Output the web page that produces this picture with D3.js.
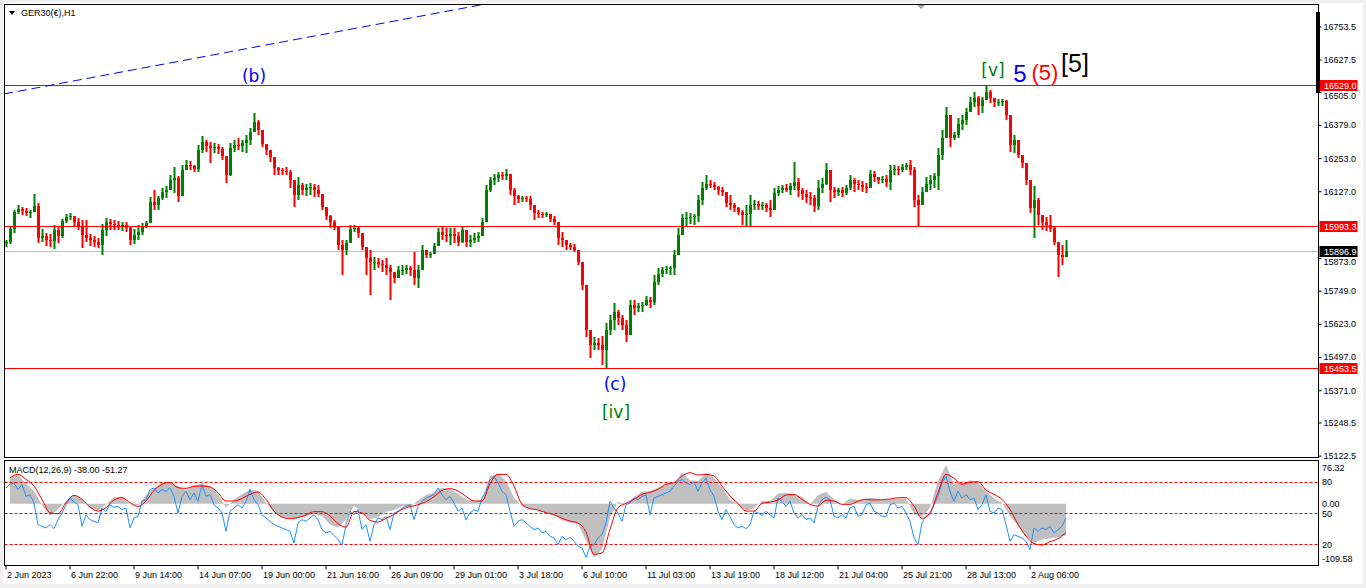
<!DOCTYPE html>
<html>
<head>
<meta charset="utf-8">
<script src="https://d3js.org/d3.v7.min.js"></script>
<style>
  body { margin: 0; background: #f0f0f0; }
  svg text { font-family: "Liberation Sans", Arial, sans-serif; }
</style>
</head>
<body>
<svg id="chart" width="1366" height="588"></svg>
<script>
// GER30 H1 candles (one drawn candle = 4 hourly bars)
const barsPerCandle = 4;
const firstOpen = 15930;
const candleHigh = [
  15940, 15989, 16054, 16073, 16065, 16062, 16054, 16115, 16081, 15982,
  15967, 15963, 15997, 15989, 16020, 16039, 16043, 16031, 16024, 16016,
  16016, 15963, 15955, 15948, 16001, 16024, 16020, 16016, 16012, 16008,
  16008, 15993, 15982, 15997, 16005, 16012, 16103, 16130, 16107, 16138,
  16145, 16187, 16217, 16183, 16225, 16244, 16240, 16225, 16301, 16335,
  16320, 16312, 16309, 16305, 16293, 16244, 16309, 16320, 16328, 16320,
  16339, 16366, 16423, 16396, 16350, 16301, 16282, 16252, 16217, 16214,
  16217, 16206, 16168, 16179, 16157, 16153, 16157, 16153, 16149, 16111,
  16062, 16035, 16016, 15970, 15940, 15940, 15997, 15997, 15989, 15967,
  15910, 15902, 15875, 15872, 15864, 15872, 15845, 15818, 15841, 15845,
  15845, 15841, 15894, 15845, 15921, 15902, 15894, 15929, 15986, 15993,
  15986, 15986, 15986, 15970, 15993, 15978, 15959, 15967, 15970, 16024,
  16149, 16179, 16191, 16198, 16198, 16210, 16187, 16138, 16111, 16107,
  16107, 16107, 16073, 16054, 16046, 16046, 16039, 16031, 15997, 15970,
  15940, 15929, 15925, 15902, 15856, 15758, 15598, 15571, 15568, 15575,
  15625, 15655, 15701, 15674, 15655, 15636, 15712, 15712, 15701, 15704,
  15727, 15723, 15807, 15834, 15837, 15841, 15841, 15902, 15986, 16039,
  16046, 16043, 16039, 16111, 16160, 16187, 16168, 16160, 16145, 16141,
  16122, 16111, 16081, 16065, 16054, 16073, 16111, 16092, 16088, 16084,
  16081, 16092, 16138, 16145, 16149, 16153, 16157, 16236, 16176, 16138,
  16130, 16122, 16111, 16168, 16176, 16233, 16206, 16141, 16138, 16141,
  16149, 16187, 16176, 16168, 16164, 16157, 16206, 16202, 16179, 16183,
  16187, 16225, 16225, 16221, 16229, 16233, 16244, 16217, 16111, 16141,
  16179, 16187, 16195, 16290, 16358, 16445, 16377, 16350, 16404, 16415,
  16442, 16483, 16502, 16487, 16483, 16525, 16510, 16480, 16476, 16476,
  16472, 16377, 16339, 16320, 16255, 16225, 16168, 16145, 16100, 16035,
  16027, 16035, 15989, 15929, 15921, 15940
];
const candleLow = [
  15913, 15925, 15967, 16039, 16035, 16031, 16024, 16046, 15929, 15932,
  15917, 15913, 15906, 15929, 15948, 16005, 16016, 15993, 15978, 15910,
  15932, 15917, 15913, 15910, 15883, 15955, 15978, 15978, 15978, 15974,
  15970, 15921, 15925, 15940, 15959, 15986, 16008, 16054, 16054, 16092,
  16100, 16130, 16119, 16084, 16130, 16206, 16206, 16198, 16198, 16271,
  16274, 16233, 16271, 16267, 16244, 16157, 16183, 16274, 16282, 16274,
  16271, 16301, 16358, 16339, 16293, 16263, 16236, 16187, 16187, 16187,
  16187, 16138, 16065, 16092, 16111, 16107, 16111, 16103, 16103, 16054,
  16016, 15986, 15978, 15902, 15807, 15883, 15940, 15970, 15948, 15902,
  15807, 15731, 15826, 15834, 15818, 15807, 15712, 15777, 15799, 15807,
  15811, 15803, 15769, 15758, 15856, 15872, 15872, 15894, 15921, 15940,
  15932, 15921, 15929, 15917, 15929, 15913, 15913, 15929, 15932, 15959,
  16016, 16122, 16149, 16160, 16168, 16168, 16111, 16073, 16081, 16084,
  16084, 16054, 16016, 16024, 16024, 16027, 16008, 15997, 15921, 15913,
  15902, 15902, 15894, 15845, 15750, 15571, 15492, 15522, 15522, 15465,
  15454, 15579, 15598, 15617, 15598, 15552, 15579, 15655, 15666, 15666,
  15689, 15682, 15693, 15769, 15799, 15811, 15807, 15807, 15883, 15959,
  15993, 16001, 15997, 16008, 16073, 16130, 16138, 16130, 16111, 16107,
  16065, 16054, 16046, 16035, 15997, 15993, 15993, 16054, 16054, 16054,
  16046, 16027, 16054, 16107, 16119, 16122, 16111, 16130, 16103, 16092,
  16081, 16073, 16046, 16054, 16119, 16149, 16084, 16100, 16107, 16103,
  16111, 16130, 16122, 16130, 16122, 16119, 16149, 16160, 16153, 16157,
  16141, 16130, 16187, 16187, 16198, 16206, 16187, 16065, 15993, 16081,
  16122, 16130, 16138, 16130, 16244, 16358, 16293, 16320, 16328, 16358,
  16377, 16426, 16445, 16415, 16423, 16472, 16461, 16445, 16449, 16449,
  16396, 16274, 16271, 16252, 16214, 16149, 16043, 15948, 15997, 15978,
  15974, 15970, 15921, 15799, 15845, 15890
];
const candleClose = [
  15932, 15982, 16046, 16058, 16050, 16043, 16046, 16069, 15948, 15955,
  15940, 15936, 15978, 15955, 16012, 16027, 16031, 16008, 15993, 15959,
  15948, 15940, 15932, 15921, 15978, 16008, 16001, 15997, 15993, 15997,
  15986, 15940, 15959, 15970, 15993, 16005, 16084, 16073, 16100, 16122,
  16130, 16168, 16176, 16107, 16206, 16225, 16221, 16210, 16282, 16312,
  16297, 16290, 16293, 16286, 16259, 16187, 16290, 16301, 16297, 16309,
  16320, 16350, 16388, 16358, 16305, 16282, 16255, 16214, 16206, 16202,
  16198, 16168, 16111, 16149, 16130, 16138, 16141, 16130, 16115, 16065,
  16031, 16008, 15989, 15921, 15902, 15929, 15982, 15986, 15967, 15913,
  15872, 15856, 15856, 15849, 15845, 15834, 15818, 15796, 15826, 15826,
  15834, 15826, 15796, 15826, 15902, 15883, 15887, 15917, 15970, 15959,
  15955, 15963, 15955, 15932, 15978, 15932, 15940, 15948, 15955, 16008,
  16130, 16168, 16176, 16187, 16183, 16191, 16130, 16107, 16096, 16100,
  16096, 16073, 16043, 16039, 16035, 16039, 16020, 16008, 15948, 15940,
  15921, 15913, 15902, 15856, 15769, 15598, 15541, 15549, 15541, 15522,
  15598, 15636, 15666, 15644, 15617, 15579, 15693, 15682, 15689, 15693,
  15712, 15704, 15780, 15811, 15826, 15830, 15834, 15883, 15959, 16024,
  16024, 16027, 16031, 16092, 16138, 16153, 16149, 16141, 16130, 16122,
  16081, 16073, 16062, 16046, 16035, 16039, 16073, 16077, 16069, 16073,
  16062, 16054, 16119, 16130, 16138, 16130, 16145, 16160, 16130, 16115,
  16103, 16100, 16069, 16138, 16153, 16206, 16130, 16122, 16130, 16119,
  16138, 16168, 16153, 16149, 16141, 16138, 16191, 16179, 16168, 16172,
  16160, 16206, 16210, 16206, 16217, 16225, 16206, 16092, 16073, 16122,
  16153, 16168, 16183, 16263, 16328, 16415, 16328, 16339, 16381, 16396,
  16426, 16464, 16480, 16449, 16472, 16502, 16480, 16464, 16464, 16468,
  16415, 16301, 16320, 16263, 16233, 16168, 16062, 16092, 16035, 16008,
  15997, 15986, 15932, 15883, 15875, 15897
];

// indicator window, sampled every 8 bars (histogram + signal) and every 4 bars (blue line)
const macdStep = 8;
const macdMain = [
  47.7, 51.2, 35.7, 22.6, -2.4, -22, -10.1, 4.8, 15.5, 7.7,
  -8.3, -11.9, -1.2, 11.9, 11.9, -1.2, -2.4, 15.5, 27.4, 36.9,
  38.1, 31.6, 23.8, 33.4, 35.7, 31.6, 16.7, -7.1, 7.7, 16.7,
  25.6, 22.6, 1.8, -16.1, -25, -26.2, -25, -22, -17.9, -22,
  -36.9, -42.9, -28, -4.2, -16.1, -28, -23.8, -14.3, -11.9, -4.2,
  -6, 6, 15.5, 19.7, 28.6, 25.6, 17.9, 7.7, 4.8, 6,
  49.5, 53.6, 40.5, 10.7, -4.2, -8.3, -11.9, -16.1, -19.1, -29.8,
  -34, -35.7, -66.7, -96.5, -81.6, -25, 3.6, 0, 11.9, 21.4,
  22.6, 28.6, 35.7, 35.7, 55.4, 41.7, 40.5, 55.4, 46.5, 28.6,
  7.7, -1.2, -13.1, -8.3, 4.8, 4.8, 17.9, 19.7, 15.5, 11.9,
  -1.2, 15.5, 21.4, 7.7, -1.2, 9.5, 6, 9.5, 10.7, 6,
  7.7, 9.5, 9.5, -19.1, -23.8, -7.1, 40.5, 69.1, 34.6, 35.7,
  41.7, 37.5, 22.6, 9.5, 1.8, -22, -39.9, -57.8, -69.7, -63.8,
  -62, -59.6, -57
];
const macdSignal = [
  46.5, 52.4, 43.5, 31.6, 7.7, -16.1, -17.9, 1.8, 14.9, 7.7,
  -6, -13.1, -7.1, 6.6, 10.7, 1.8, -4.8, 4.8, 23.8, 34.6,
  38.1, 28.6, 27.4, 31, 31.6, 29.8, 19.7, 4.8, 4.8, 9.5,
  16.7, 20.9, 7.7, -13.1, -23.8, -26.8, -25, -20.3, -14.3, -14.3,
  -22, -35.7, -42, -14, -16.1, -29.8, -32.8, -26.2, -19.1, -10.1,
  -5.4, -1.8, 3.6, 12.5, 23.8, 26.8, 22.6, 13.1, 4.8, 4.8,
  35.7, 52.4, 52.4, 31.6, -1.2, -8.9, -11.3, -16.1, -19.7, -26.2,
  -31, -34.6, -50.6, -90.6, -88, -45.9, -7.1, 0.6, 7.7, 16.7,
  20.3, 25.6, 34.6, 37.5, 49.5, 55.4, 51.2, 52.4, 49.5, 31.6,
  13.7, 0, -13.1, -13.1, 0.6, 3, 6.6, 15.5, 16.7, 7.7,
  -1.2, -4.2, 6, 4.8, -1.2, -1.2, 4.8, 7.7, 6.6, 7.1,
  8.3, 10.7, 10.7, -4.2, -26.2, -16.1, 19.7, 52.4, 45.3, 34.6,
  38.7, 39.3, 24.4, 16.7, 7.7, -10.1, -36.9, -57.8, -71.5, -73.9,
  -67.9, -62.6, -51.3
];
const blueLine = [
  74.1, 77.9, 78.9, 72.5, 77.3, 66.0, 67.6, 59.6, 38.8, 37.2,
  35.6, 38.8, 35.0, 43.6, 50.0, 58.0, 64.4, 60.6, 58.0, 37.2,
  48.4, 43.6, 42.0, 40.4, 54.8, 51.6, 58.0, 55.5, 56.4, 53.2,
  54.8, 35.6, 45.2, 46.8, 61.2, 62.8, 72.5, 74.1, 69.2, 72.5,
  70.9, 74.1, 66.0, 50.0, 66.0, 70.9, 62.8, 69.2, 61.2, 77.3,
  66.0, 67.6, 58.0, 54.8, 50.0, 32.4, 51.6, 54.8, 58.0, 54.8,
  61.2, 72.5, 62.8, 58.0, 48.4, 45.2, 42.0, 38.8, 37.2, 35.6,
  34.0, 32.4, 21.2, 40.4, 43.6, 42.0, 45.2, 48.4, 43.6, 34.0,
  30.8, 32.4, 28.5, 24.4, 18.9, 38.8, 51.6, 48.4, 53.2, 34.0,
  38.8, 22.8, 38.8, 45.2, 43.6, 46.8, 34.0, 50.0, 51.6, 54.8,
  56.4, 58.0, 43.6, 56.4, 61.2, 64.4, 66.0, 67.6, 74.1, 67.6,
  62.8, 66.0, 59.6, 51.6, 54.8, 43.6, 50.0, 53.2, 51.6, 64.4,
  70.9, 82.1, 85.3, 78.9, 70.9, 67.6, 51.6, 37.2, 42.0, 43.6,
  40.4, 37.2, 34.0, 35.6, 30.8, 32.4, 27.6, 26.0, 19.6, 27.6,
  24.4, 26.6, 22.8, 18.0, 16.4, 7.4, 18.0, 19.6, 26.0, 29.2,
  40.4, 61.2, 54.8, 50.0, 42.0, 58.0, 59.6, 64.4, 62.8, 66.0,
  67.6, 48.4, 64.4, 66.0, 67.6, 69.2, 70.9, 75.7, 80.5, 82.1,
  78.9, 77.3, 79.8, 70.9, 78.9, 83.7, 72.5, 66.0, 51.6, 43.6,
  53.2, 46.8, 38.8, 35.6, 37.2, 35.0, 38.8, 51.6, 50.0, 47.8,
  51.6, 48.4, 45.2, 64.4, 61.2, 56.4, 61.2, 50.0, 45.2, 48.4,
  43.6, 45.2, 40.4, 56.4, 62.8, 65.1, 62.8, 46.8, 45.2, 48.4,
  45.2, 54.8, 56.4, 46.8, 48.4, 58.0, 59.6, 51.6, 50.0, 46.8,
  46.8, 58.0, 59.6, 54.8, 56.4, 50.0, 42.0, 26.0, 19.6, 40.4,
  46.8, 48.4, 58.0, 66.0, 78.9, 85.3, 70.9, 61.2, 70.9, 64.4,
  67.6, 62.8, 64.4, 53.2, 58.0, 67.6, 51.6, 50.0, 54.8, 53.2,
  38.8, 22.8, 29.2, 27.6, 26.0, 22.8, 14.8, 35.6, 32.4, 35.6,
  34.0, 37.2, 30.8, 34.0, 37.2, 45.2
];
const stochLevels = [80, 50, 20];
const macdRange = [-109.58, 76.32];
const macdTitle = "MACD(12,26,9) -38.00 -51.27";

// horizontal levels and trend line
const redLevels = [16529.0, 15993.3, 15453.5];
const bidPrice = 15896.9;
const trendPoints = [[-1, 16495], [395, 16776]];

// axes
const priceTicks = [16753.5, 16627.5, 16505.0, 16379.0, 16253.0, 16127.0, 15873.0,
  15749.0, 15623.0, 15497.0, 15371.0, 15248.5, 15122.5];
const barsPerTimeLabel = 64;
const timeLabels = ["2 Jun 2023", "6 Jun 22:00", "9 Jun 14:00", "14 Jun 07:00",
  "19 Jun 00:00", "21 Jun 16:00", "26 Jun 09:00", "29 Jun 01:00", "3 Jul 18:00",
  "6 Jul 10:00", "11 Jul 03:00", "13 Jul 19:00", "18 Jul 12:00", "21 Jul 04:00",
  "25 Jul 21:00", "28 Jul 13:00", "2 Aug 06:00"];

// Elliott wave labels, anchored at (bar, price)
const waveLabels = [
  { text: "(b)", bar: 249, price: 16542, kind: "minorBlue" },
  { text: "(c)", bar: 610, price: 15370, kind: "minorBlue" },
  { text: "[iv]", bar: 611, price: 15265, kind: "minorGreen" },
  { text: "[v]", bar: 988, price: 16562, kind: "minorGreen" },
  { text: "5", bar: 1015, price: 16540, kind: "bigBlue" },
  { text: "(5)", bar: 1040, price: 16547, kind: "bigRed" },
  { text: "[5]", bar: 1070, price: 16580, kind: "bigBlack" },
];

const labelStyles = {
  minorBlue: { fill: "#0000ff", size: 17, font: "DejaVu Sans" },
  minorGreen: { fill: "#008000", size: 17, font: "DejaVu Sans" },
  bigBlue: { fill: "#0000ff", size: 24, font: "Liberation Sans" },
  bigRed: { fill: "#ff0000", size: 22, font: "Liberation Sans" },
  bigBlack: { fill: "#000000", size: 25, font: "Liberation Sans" },
};

const W = 1366, H = 588;
const left = 4.5, right = 1318.5;
const mainTop = 4.5, mainBottom = 457.5;
const subTop = 460.5, subBottom = 565.5;
const upColor = "#008000", downColor = "#ff0000";

const svg = d3.select("#chart");

const x = d3.scaleLinear().domain([0, 1313]).range([5, 1318]);
const y = d3.scaleLinear().domain([15115.4, 16836.8]).range([457, 4]);
const yMacd = d3.scaleLinear().domain(macdRange).range([565, 461]);
const yStoch = d3.scaleLinear().domain([0, 100]).range([565, 461]);

function drawFrame() {
  svg.append("rect").attr("width", W).attr("height", H).attr("fill", "#f0f0f0");
  svg.append("rect").attr("x", 3).attr("y", 3).attr("width", W - 6).attr("height", H - 7)
    .attr("fill", "#ffffff");

  let defs = svg.append("defs");
  defs.append("clipPath").attr("id", "clip-main").append("rect")
    .attr("x", left).attr("y", mainTop).attr("width", right - left).attr("height", mainBottom - mainTop);
  defs.append("clipPath").attr("id", "clip-sub").append("rect")
    .attr("x", left).attr("y", subTop).attr("width", right - left).attr("height", subBottom - subTop);
}

function drawCandles() {
  let candles = candleClose.map((c, i) => {
    let open = i === 0 ? firstOpen : candleClose[i - 1];
    return {
      bar: i * barsPerCandle + 1,
      open: open,
      close: c,
      high: Math.max(candleHigh[i], open, c),
      low: Math.min(candleLow[i], open, c),
    };
  });

  let g = svg.append("g").attr("clip-path", "url(#clip-main)");

  // bid line sits behind the bars
  g.append("line")
    .attr("x1", left).attr("x2", right)
    .attr("y1", Math.round(y(bidPrice)) + 0.5).attr("y2", Math.round(y(bidPrice)) + 0.5)
    .attr("stroke", "#c0c0c0");

  // at this zoom the terminal draws each bar as a solid coloured stroke
  g.selectAll("line.wick")
    .data(candles)
    .enter()
    .append("line")
    .attr("class", "wick")
    .attr("x1", (d) => x(d.bar) + 0.5)
    .attr("x2", (d) => x(d.bar) + 0.5)
    .attr("y1", (d) => y(d.high))
    .attr("y2", (d) => y(d.low))
    .attr("stroke", (d) => (d.close >= d.open ? upColor : downColor))
    .attr("stroke-width", 2);

  g.selectAll("rect.body")
    .data(candles)
    .enter()
    .append("rect")
    .attr("class", "body")
    .attr("x", (d) => x(d.bar) - 1)
    .attr("width", 3)
    .attr("y", (d) => y(Math.max(d.open, d.close)))
    .attr("height", (d) => Math.max(1, Math.abs(y(d.open) - y(d.close))))
    .attr("fill", (d) => (d.close >= d.open ? upColor : downColor));

  g.selectAll("line.level")
    .data(redLevels)
    .enter()
    .append("line")
    .attr("class", "level")
    .attr("x1", left).attr("x2", right)
    .attr("y1", (d) => Math.round(y(d)) + 0.5)
    .attr("y2", (d) => Math.round(y(d)) + 0.5)
    .attr("stroke", "#ff0000");

  // trend line runs on past its second point (ray)
  let [p0, p1] = trendPoints;
  let slope = (p1[1] - p0[1]) / (p1[0] - p0[0]);
  let farBar = 700;
  g.append("line")
    .attr("x1", x(p0[0])).attr("y1", y(p0[1]))
    .attr("x2", x(farBar)).attr("y2", y(p0[1] + slope * (farBar - p0[0])))
    .attr("stroke", "#0000ff")
    .attr("stroke-width", 1)
    .attr("stroke-dasharray", "9,5");

  // chart shift marker
  svg.append("path")
    .attr("d", `M ${x(911)} 4 L ${x(921)} 4 L ${x(916)} 9 Z`)
    .attr("fill", "#a0a0a0");
}

function drawWaveLabels() {
  svg.selectAll("text.wave")
    .data(waveLabels)
    .enter()
    .append("text")
    .attr("class", "wave")
    .attr("x", (d) => x(d.bar))
    .attr("y", (d) => y(d.price))
    .attr("text-anchor", "middle")
    .style("font-family", (d) => `"${labelStyles[d.kind].font}", sans-serif`)
    .style("font-size", (d) => labelStyles[d.kind].size + "px")
    .attr("fill", (d) => labelStyles[d.kind].fill)
    .text((d) => d.text);
}

function drawPriceAxis() {
  let tags = redLevels.map((p) => ({ price: p, fill: "#ff0000" }));
  tags.push({ price: bidPrice, fill: "#000000" });
  let tagTop = (p) => Math.round(y(p)) - 5;

  let axis = d3.axisRight(y)
    .tickValues(priceTicks)
    .tickFormat(d3.format(".1f"))
    .tickSize(3)
    .tickSizeOuter(0);
  let g = svg.append("g")
    .attr("transform", `translate(${right},0.5)`)
    .call(axis);
  g.select(".domain").remove();
  g.selectAll("text").style("font-size", "9px").attr("fill", "#000").attr("x", 5);
  g.selectAll("line").attr("stroke", "#000");

  // a tick label half hidden by a price tag is pushed just below the tag
  g.selectAll(".tick").each(function (d) {
    let ty = y(d);
    let hit = tags.find((t) => Math.abs(y(t.price) - ty) < 10);
    if (hit) {
      let below = tagTop(hit.price) + 11 - ty;
      d3.select(this).select("text").attr("dy", null).attr("y", below + 7);
    }
  });

  // price tags on the right scale
  let tg = svg.selectAll("g.tag").data(tags).enter().append("g").attr("class", "tag");
  tg.append("rect")
    .attr("x", right + 1)
    .attr("y", (d) => tagTop(d.price))
    .attr("width", 38)
    .attr("height", 11)
    .attr("fill", (d) => d.fill);
  tg.append("text")
    .attr("x", right + 5.5)
    .attr("y", (d) => tagTop(d.price) + 9)
    .style("font-size", "9px")
    .attr("fill", "#ffffff")
    .text((d) => d.price.toFixed(1));

  // dark handle on the top of the scale
  svg.append("rect").attr("x", right - 2.5).attr("y", 12).attr("width", 4).attr("height", 81)
    .attr("fill", "#000");
}

function drawIndicator() {
  let g = svg.append("g").attr("clip-path", "url(#clip-sub)");

  let hist = d3.area()
    .x((d, k) => x(k * macdStep + 5))
    .y0(yMacd(0))
    .y1((d) => yMacd(d));
  g.append("path")
    .datum(macdMain)
    .attr("d", hist)
    .attr("fill", "#c0c0c0");

  g.selectAll("line.stoch-level")
    .data(stochLevels)
    .enter()
    .append("line")
    .attr("class", "stoch-level")
    .attr("x1", left).attr("x2", right)
    .attr("y1", (d) => Math.round(yStoch(d)) + 0.5)
    .attr("y2", (d) => Math.round(yStoch(d)) + 0.5)
    .attr("stroke", "#ff0000")
    .attr("stroke-dasharray", "3,2");

  g.append("path")
    .datum(blueLine)
    .attr("d", d3.line().x((d, i) => x(i * barsPerCandle + 1)).y((d) => yStoch(d)))
    .attr("fill", "none")
    .attr("stroke", "#1e90ff")
    .attr("stroke-width", 1);

  g.append("path")
    .datum(macdSignal)
    .attr("d", d3.line().x((d, k) => x(k * macdStep + 5)).y((d) => yMacd(d)).curve(d3.curveMonotoneX))
    .attr("fill", "none")
    .attr("stroke", "#ff0000")
    .attr("stroke-width", 1);

  svg.append("text")
    .attr("x", 9).attr("y", 473)
    .style("font-size", "9px")
    .text(macdTitle);

  // right scale of the indicator window
  let scaleTexts = [
    { t: macdRange[1].toFixed(2), y: yMacd(macdRange[1]) + 9.5 },
    { t: macdRange[0].toFixed(2), y: yMacd(macdRange[0]) - 3.5 },
    { t: (0).toFixed(2), y: yMacd(0) + 3.3 },
  ].concat(stochLevels.map((v) => ({ t: String(v), y: yStoch(v) + 3.5 })));
  svg.selectAll("text.sub-scale")
    .data(scaleTexts)
    .enter()
    .append("text")
    .attr("class", "sub-scale")
    .attr("x", right + 3.5)
    .attr("y", (d) => d.y)
    .style("font-size", "9px")
    .text((d) => d.t);
}

function drawTimeAxis() {
  let barTicks = timeLabels.map((t, k) => k * barsPerTimeLabel);
  let axis = d3.axisBottom(x)
    .tickValues(barTicks)
    .tickFormat((d, i) => timeLabels[i])
    .tickSize(4)
    .tickSizeOuter(0);
  let g = svg.append("g")
    .attr("transform", `translate(0.5,${subBottom})`)
    .call(axis);
  g.select(".domain").remove();
  g.selectAll("line").attr("stroke", "#000");
  g.selectAll("text")
    .attr("text-anchor", "start")
    .attr("x", 1)
    .attr("y", 6)
    .style("font-size", "9px")
    .attr("fill", "#000");
}

function drawTitle() {
  svg.append("path").attr("d", "M 9 11 L 15 11 L 12 15 Z").attr("fill", "#000");
  svg.append("text").attr("x", 21).attr("y", 16).style("font-size", "9px").text("GER30(€),H1");
}

function drawPanels() {
  svg.append("rect")
    .attr("x", left).attr("y", mainTop)
    .attr("width", right - left).attr("height", mainBottom - mainTop)
    .attr("fill", "none").attr("stroke", "#000");
  svg.append("rect")
    .attr("x", left).attr("y", subTop)
    .attr("width", right - left).attr("height", subBottom - subTop)
    .attr("fill", "none").attr("stroke", "#000");
}

drawFrame();
drawCandles();
drawIndicator();
drawPanels();
drawWaveLabels();
drawPriceAxis();
drawTimeAxis();
drawTitle();
</script>
</body>
</html>
